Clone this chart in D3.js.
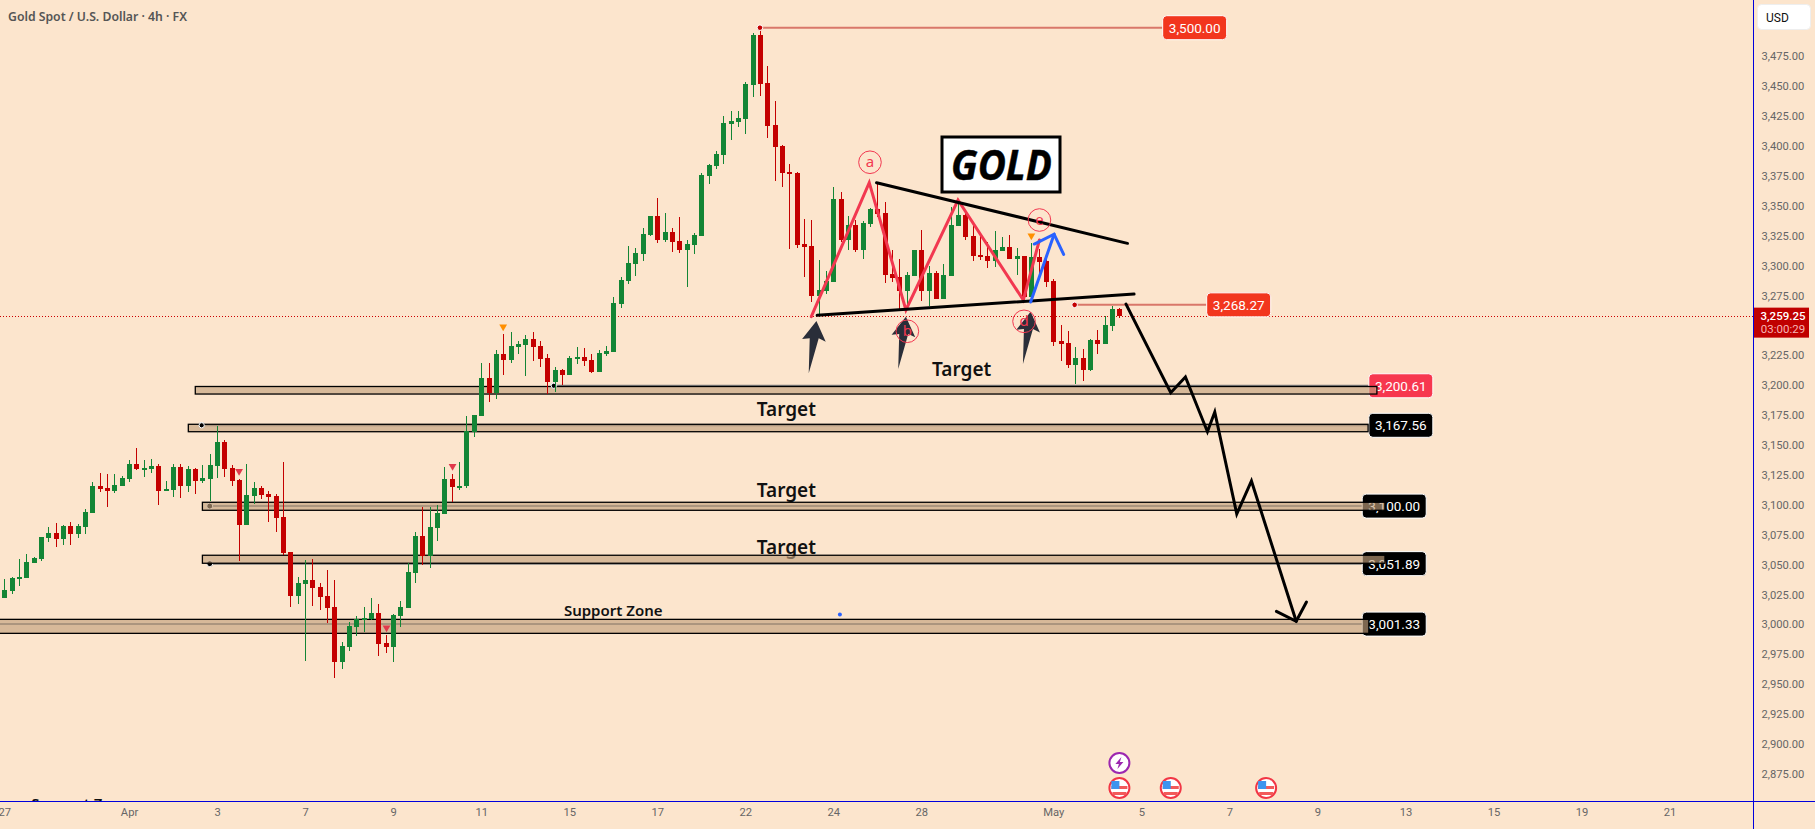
<!DOCTYPE html>
<html lang="en">
<head>
<meta charset="utf-8">
<title>Gold Spot / U.S. Dollar 4h</title>
<script src="https://cdnjs.cloudflare.com/ajax/libs/d3/7.9.0/d3.min.js"></script>
<style>
  html, body { margin: 0; padding: 0; background: #fce5cd; overflow: hidden; }
  svg { display: block; }
  text { font-family: Roboto, sans-serif; }
</style>
</head>
<body>
<svg id="chart" width="1815" height="829"></svg>
<script>
// ---- 4h OHLC series, oldest bar first ----
const opens = [
  3023.2,3029.0,3039.9,3039.9,3052.4,3055.8,3073.3,3077.5,3072.5,3083.4,
  3076.7,3082.5,3094.2,3116.8,3115.1,3112.6,3116.8,3122.7,3135.2,3131.0,
  3131.0,3133.5,3113.5,3113.5,3132.7,3116.8,3131.0,3121.0,3122.7,3133.5,
  3153.6,3131.9,3121.8,3084.2,3108.4,3115.1,3110.1,3108.4,3090.9,3061.6,
  3024.8,3034.9,3038.2,3032.4,3024.8,3015.6,2969.6,2982.2,2998.9,3005.6,
  3005.6,3010.6,2985.5,2982.2,3008.1,3014.8,3044.1,3075.0,3058.3,3081.7,
  3093.4,3122.7,3116.0,3116.5,3162.0,3175.3,3207.1,3194.6,3227.2,3222.2,
  3233.0,3234.7,3239.7,3233.9,3223.8,3203.8,3213.8,3209.6,3223.0,3224.7,
  3222.2,3212.1,3227.2,3228.8,3269.0,3288.2,3302.4,3310.8,3326.7,3342.6,
  3322.5,3329.2,3321.7,3314.1,3318.3,3325.8,3376.0,3384.4,3393.6,3419.5,
  3421.2,3423.7,3452.1,3493.9,3453.8,3418.7,3401.1,3379.4,3378.5,3319.2,
  3317.5,3275.7,3279.9,3287.4,3356.8,3322.5,3335.0,3314.1,3335.9,3348.4,
  3345.1,3294.1,3291.6,3279.9,3292.4,3314.1,3279.9,3294.9,3273.2,3292.4,
  3334.2,3343.4,3325.8,3310.0,3309.1,3304.9,3313.3,3316.6,3306.6,3309.1,
  3274.8,3308.3,3304.9,3288.2,3238.1,3236.4,3218.0,3223.8,3213.8,3238.9,
  3235.5,3250.6,3264.8
];
const highs = [
  3039.0,3040.7,3055.8,3059.9,3057.4,3074.2,3082.5,3085.9,3084.2,3086.7,
  3085.0,3097.6,3120.1,3127.7,3126.8,3126.8,3125.2,3138.5,3148.6,3138.5,
  3139.4,3135.2,3121.0,3135.2,3135.2,3133.5,3131.9,3134.4,3143.6,3167.0,
  3155.3,3134.4,3122.7,3135.2,3120.1,3116.8,3112.6,3110.1,3136.9,3061.6,
  3040.7,3054.9,3055.8,3035.7,3046.6,3038.2,2986.4,3003.1,3008.1,3015.6,
  3023.2,3018.1,2992.2,3009.8,3020.7,3052.4,3078.3,3099.2,3099.2,3100.9,
  3132.7,3126.8,3136.9,3175.3,3176.2,3219.7,3219.7,3230.5,3243.9,3245.6,
  3238.1,3243.1,3245.6,3238.1,3227.2,3216.3,3214.6,3225.5,3233.0,3232.2,
  3227.2,3230.5,3233.9,3274.8,3291.6,3317.5,3315.8,3332.5,3342.6,3357.6,
  3345.1,3332.5,3341.7,3322.5,3328.3,3378.5,3386.0,3396.9,3426.2,3430.4,
  3430.4,3454.6,3495.6,3500.0,3468.0,3438.7,3401.9,3386.0,3379.4,3340.1,
  3339.2,3305.8,3296.6,3366.8,3362.6,3342.6,3339.2,3338.4,3349.3,3370.2,
  3354.3,3314.1,3306.6,3295.7,3314.1,3330.9,3300.8,3296.6,3302.4,3350.1,
  3354.3,3347.6,3337.5,3325.8,3320.8,3330.0,3325.0,3326.7,3315.8,3309.1,
  3320.0,3315.0,3309.1,3289.9,3251.4,3246.4,3233.0,3231.4,3239.7,3247.2,
  3259.0,3267.3,3265.6
];
const lows = [
  3023.2,3026.5,3033.2,3039.9,3052.4,3054.1,3070.0,3065.8,3067.5,3067.5,
  3073.3,3076.7,3094.2,3111.8,3099.2,3111.0,3116.8,3120.1,3130.2,3124.3,
  3127.7,3100.9,3112.6,3107.6,3106.8,3111.8,3110.1,3119.3,3104.3,3123.5,
  3124.3,3116.8,3054.1,3084.2,3101.8,3105.9,3086.7,3078.3,3059.1,3015.6,
  3018.1,2970.5,3016.5,3013.1,3002.3,2956.3,2963.8,2978.8,2991.4,2994.7,
  3004.8,2974.7,2977.2,2969.6,2998.9,3014.8,3035.7,3050.8,3048.2,3070.8,
  3093.4,3103.4,3113.5,3115.5,3157.8,3175.3,3187.1,3189.6,3209.6,3219.7,
  3227.2,3208.8,3221.3,3216.3,3193.7,3195.4,3201.3,3209.6,3218.8,3217.1,
  3211.3,3212.1,3225.5,3228.8,3265.6,3285.7,3292.4,3304.9,3325.8,3320.0,
  3320.8,3312.5,3311.6,3283.2,3310.8,3325.8,3369.3,3381.9,3386.0,3406.1,
  3417.0,3411.1,3442.1,3442.9,3407.8,3371.8,3366.8,3315.0,3315.8,3291.6,
  3270.7,3259.8,3277.3,3287.4,3320.8,3314.1,3312.5,3306.6,3333.4,3341.7,
  3286.5,3287.4,3264.8,3264.0,3292.4,3271.5,3267.3,3273.2,3273.2,3292.4,
  3334.2,3322.5,3304.9,3305.8,3299.1,3299.9,3313.3,3306.6,3293.2,3274.8,
  3270.7,3292.4,3283.2,3233.9,3221.3,3215.5,3202.1,3204.6,3213.0,3227.2,
  3235.5,3246.4,3257.3
];
const closes = [
  3029.8,3039.9,3040.7,3053.3,3056.6,3074.2,3077.5,3072.5,3083.4,3076.7,
  3083.4,3095.1,3116.8,3114.3,3112.6,3117.6,3123.5,3135.2,3131.0,3131.9,
  3133.5,3112.6,3114.3,3132.7,3116.8,3131.0,3121.0,3123.5,3134.4,3153.6,
  3131.0,3121.0,3084.2,3109.3,3115.1,3109.3,3107.6,3090.0,3060.8,3024.8,
  3035.7,3038.2,3031.5,3024.0,3014.8,2969.6,2983.0,2999.7,3005.6,3006.4,
  3010.6,2984.7,2982.2,3008.9,3015.6,3044.9,3075.0,3058.3,3082.5,3094.2,
  3122.7,3116.0,3116.8,3162.8,3176.2,3207.1,3194.6,3227.2,3222.2,3233.9,
  3235.5,3239.7,3233.0,3223.0,3203.8,3213.8,3209.6,3223.8,3224.7,3221.3,
  3212.1,3228.0,3229.7,3269.8,3289.0,3303.3,3311.6,3327.5,3342.6,3322.5,
  3329.2,3320.8,3314.1,3319.2,3326.7,3376.8,3385.2,3394.4,3420.3,3422.0,
  3424.5,3452.9,3493.9,3452.9,3417.8,3400.3,3378.5,3378.5,3318.3,3316.6,
  3275.7,3280.7,3288.2,3356.8,3322.5,3335.0,3314.1,3336.7,3348.4,3344.2,
  3293.2,3290.7,3279.9,3293.2,3314.1,3279.9,3294.9,3273.2,3293.2,3335.0,
  3343.4,3325.0,3309.1,3308.3,3304.9,3314.1,3316.6,3306.6,3309.1,3274.8,
  3308.3,3304.1,3287.4,3237.2,3235.5,3218.0,3223.8,3213.8,3238.9,3235.5,
  3251.4,3264.8,3259.25
];

// ---- Axes ----
const priceTicks = [2875,2900,2925,2950,2975,3000,3025,3050,3075,3100,3125,3150,3175,3200,3225,
                    3275,3300,3325,3350,3375,3400,3425,3450,3475];
const timeTickBars = [0,17,29,41,53,65,77,89,101,113,125,143,155,167,179,191,203,215,227];
const timeTickLabels = ["27","Apr","3","7","9","11","15","17","22","24","28","May","5","7","9","13","15","19","21"];
const titleText = "Gold Spot / U.S. Dollar · 4h · FX";
const lastPrice = 3259.25;
const countdown = "03:00:29";

// ---- Horizontal levels and the support/target zones around them ----
const levelPrices   = [3200.61, 3167.56, 3100.00, 3051.89, 3001.33];
const levelStarts   = [74.9, 26.9, 28, 28, -8];
const levelTagBars  = [186.0, 186.0, 185.1, 185.1, 185.1];
const levelTagFills = ["#f7374f", "#000000", "#000000", "#000000", "#000000"];
const zoneTops      = [3200.0, 3168.4, 3103.2, 3058.9, 3005.3];
const zoneBottoms   = [3193.7, 3162.2, 3096.5, 3052.2, 2993.6];
const zoneLefts     = [26.03, 25.08, 27.0, 27.0, -8];
const zoneRights    = [187.1, 185.9, 188.2, 188.2, 186.0];

// Peak and breakdown levels with a leader line from their anchor bar
const calloutPrices = [3500.00, 3268.27];
const calloutBars   = [103, 145.9];
const calloutTags   = [157.9, 163.9];

// ---- Pattern drawings as [bar, price] ----
const resistanceLine = [[118.9, 3370.4], [153.1, 3319.7]];
const supportLine    = [[110.8, 3259.5], [154.0, 3277.3]];
const waveLine = [[110.0,3258.4],[117.9,3370.4],[122.9,3264.0],[130.0,3355.9],[138.9,3272.3],[141.1,3322.5]];
const blueShaft = [[139.9,3270.6],[143.1,3327.3]];
const blueHead  = [[140.4,3319.1],[143.1,3327.3],[144.4,3310.5]];
const projection = [[152.9,3268.9],[159.0,3194.8],[161.0,3207.9],[164.0,3162.2],[165.0,3178.7],
                    [168.0,3093.4],[170.0,3121.0],[176.1,3003.7]];
const projectionHead = [[173.4,3012.0],[176.1,3003.7],[177.5,3019.8]];
const waveLetters = ["a","b","c","d","e"];
const waveLetterBars = [118.0,123.1,130.0,139.0,141.1];
const waveLetterPrices = [3387.5,3246.2,3373.2,3254.5,3339.2];
const arrowTips = [[110.7,3254.8],[122.9,3258.4],[139.9,3262.5]];
const orangeFlags = [[68.0,3250.0],[140.0,3326.1]];
const redFlags = [[32.0,3129.1],[52.1,2998.3],[61.1,3133.3]];

const noteTexts = ["Target","Target","Target","Target"];
const noteBars = [130.5,106.6,106.6,106.6];
const notePrices = [3208.8,3175.3,3107.6,3060.2];
const supportNotes = [[83.0,3008.1],[10.4,2846.7]];
const smallDot = [113.9, 3009.4];

const earningsBars = [152, 159, 172];
const dividendBar = 152;

// ---- Scales ----
const axisX = 1753.5, axisY = 801.5;
const x = d3.scaleLinear().domain([0, 152]).range([4.33, 1119.4]);
const y = d3.scaleLinear().domain([3000, 3500]).range([625.7, 27.7]);
const pt = d => [x(d[0]), y(d[1])];
const lineGen = d3.line().x(d => x(d[0])).y(d => y(d[1]));

const UP = "#138535", DOWN = "#c40000", INK = "#000000";
const svg = d3.select("#chart");

svg.append("defs").append("clipPath").attr("id", "pane")
  .append("rect").attr("width", axisX).attr("height", axisY);
const pane = svg.append("g").attr("clip-path", "url(#pane)");

// Target captions sit beneath the translucent zones
const notes = pane.append("g");
notes.selectAll("text").data(noteTexts).join("text")
  .attr("x", (d, i) => x(noteBars[i]))
  .attr("y", (d, i) => y(notePrices[i]))
  .attr("text-anchor", "middle")
  .style("font-family", "'Noto Sans', sans-serif")
  .attr("font-size", 19).attr("font-weight", 600).attr("fill", "#111")
  .text(d => d);

// Level lines, anchor dots and their value tags
const levels = pane.append("g");
levels.selectAll("line").data(levelPrices).join("line")
  .attr("x1", (d, i) => x(levelStarts[i])).attr("x2", (d, i) => x(levelTagBars[i]))
  .attr("y1", d => y(d)).attr("y2", d => y(d))
  .attr("stroke", "#808080").attr("stroke-width", 2);
levels.selectAll("circle").data(levelPrices).join("circle")
  .attr("cx", (d, i) => x(levelStarts[i])).attr("cy", d => y(d)).attr("r", 3)
  .attr("fill", "#000").attr("stroke", "#fff").attr("stroke-width", 1);

const tagW = 64, tagH = 24;
const tags = pane.append("g").selectAll("g").data(levelPrices).join("g")
  .attr("transform", (d, i) => `translate(${x(levelTagBars[i])},${y(d)})`);
tags.append("rect").attr("y", -tagH / 2).attr("width", tagW).attr("height", tagH).attr("rx", 4)
  .attr("fill", (d, i) => levelTagFills[i]).attr("stroke", "#fff").attr("stroke-width", 1);
tags.append("text").attr("x", tagW / 2).attr("y", 0).attr("dy", "0.36em")
  .attr("text-anchor", "middle").attr("fill", "#fff").attr("font-size", 13.5)
  .text(d => d3.format(",.2f")(d));

// Zones, drawn over the level tags
pane.append("g").selectAll("rect").data(zoneTops).join("rect")
  .attr("x", (d, i) => x(zoneLefts[i]))
  .attr("width", (d, i) => x(zoneRights[i]) - x(zoneLefts[i]))
  .attr("y", d => y(d))
  .attr("height", (d, i) => y(zoneBottoms[i]) - y(d))
  .attr("fill", "rgb(194,160,124)").attr("fill-opacity", 0.645)
  .attr("stroke", INK).attr("stroke-width", 1.3);

// Dots that rest on a zone's top edge stay sharp
pane.append("g").selectAll("circle").data(levelPrices.slice(0, 2)).join("circle")
  .attr("cx", (d, i) => x(levelStarts[i])).attr("cy", d => y(d)).attr("r", 2.6)
  .attr("fill", "#000").attr("stroke", "#fff").attr("stroke-width", 1);

// Support captions
pane.append("g").selectAll("text").data(supportNotes).join("text")
  .attr("x", d => x(d[0])).attr("y", d => y(d[1]))
  .attr("text-anchor", "middle")
  .style("font-family", "'Noto Sans', sans-serif")
  .attr("font-size", 15).attr("font-weight", 600).attr("fill", "#111")
  .text("Support Zone");

pane.append("circle").attr("cx", x(smallDot[0])).attr("cy", y(smallDot[1])).attr("r", 2).attr("fill", "#2962ff");

// Last-price dotted line
const lastRow = Math.round(y(lastPrice)) + 0.5;
pane.append("line").attr("x1", 0).attr("x2", axisX).attr("y1", lastRow).attr("y2", lastRow)
  .attr("stroke", "#cc0000").attr("stroke-width", 1).attr("stroke-dasharray", "1 2")
  .attr("shape-rendering", "crispEdges");

// Candles
const bars = d3.range(opens.length);
const candle = pane.append("g").attr("shape-rendering", "crispEdges");
candle.selectAll("line").data(bars).join("line")
  .attr("x1", i => Math.round(x(i)) + 0.5).attr("x2", i => Math.round(x(i)) + 0.5)
  .attr("y1", i => y(highs[i])).attr("y2", i => y(lows[i]))
  .attr("stroke", i => closes[i] >= opens[i] ? UP : DOWN).attr("stroke-width", 1);
candle.selectAll("rect").data(bars).join("rect")
  .attr("x", i => Math.round(x(i)) - 2).attr("width", 5)
  .attr("y", i => y(Math.max(opens[i], closes[i])))
  .attr("height", i => Math.max(2, Math.abs(y(opens[i]) - y(closes[i]))))
  .attr("fill", i => closes[i] >= opens[i] ? UP : DOWN);

// Signal markers
const tri = d3.symbol().type(d3.symbolTriangle).size(26);
pane.append("g").selectAll("path").data(orangeFlags).join("path")
  .attr("d", tri).attr("fill", "#ff8f00")
  .attr("transform", d => `translate(${x(d[0])},${y(d[1])}) rotate(180)`);
pane.append("g").selectAll("path").data(redFlags).join("path")
  .attr("d", tri).attr("fill", "#e0394b")
  .attr("transform", d => `translate(${x(d[0])},${y(d[1])}) rotate(180)`);

// Peak and breakdown callouts
const callouts = pane.append("g");
callouts.selectAll("line").data(calloutPrices).join("line")
  .attr("x1", (d, i) => x(calloutBars[i])).attr("x2", (d, i) => x(calloutTags[i]))
  .attr("y1", d => y(d)).attr("y2", d => y(d))
  .attr("stroke", "#d9776a").attr("stroke-width", 2);
callouts.selectAll("circle").data(calloutPrices).join("circle")
  .attr("cx", (d, i) => x(calloutBars[i])).attr("cy", d => y(d)).attr("r", 2.8)
  .attr("fill", "#c40000").attr("stroke", "#fff").attr("stroke-width", 1);
const ctags = callouts.selectAll("g").data(calloutPrices).join("g")
  .attr("transform", (d, i) => `translate(${x(calloutTags[i])},${y(d)})`);
ctags.append("rect").attr("y", -tagH / 2).attr("width", tagW).attr("height", tagH).attr("rx", 4)
  .attr("fill", "#f2361e").attr("stroke", "#fff").attr("stroke-width", 1);
ctags.append("text").attr("x", tagW / 2).attr("dy", "0.36em")
  .attr("text-anchor", "middle").attr("fill", "#fff").attr("font-size", 13.5)
  .text(d => d3.format(",.2f")(d));

// Pattern: wave path, trend lines, blue arrow and projected drop
const stroke = (data, colour) => pane.append("path").datum(data).attr("d", lineGen)
  .attr("fill", "none").attr("stroke", colour).attr("stroke-width", 3)
  .attr("stroke-linejoin", "miter").attr("stroke-linecap", "round");
stroke(waveLine, "#f23850");
stroke(resistanceLine, INK);
stroke(supportLine, INK);
stroke(blueShaft, "#2962ff");
stroke(blueHead, "#2962ff");
stroke(projection, INK);
stroke(projectionHead, INK);

// Dark upward arrows under the swing lows
const arrowShape = [[0,0],[9.3,20.7],[2.3,17.3],[-7.7,52.3],[-6.7,17.3],[-14.3,18]];
pane.append("g").selectAll("path").data(arrowTips).join("path")
  .attr("d", d => { const p = pt(d); return "M" + arrowShape.map(s => [p[0] + s[0], p[1] + s[1]].join(",")).join("L") + "Z"; })
  .attr("fill", "#2a2e39");

// Circled wave letters
const letters = pane.append("g").selectAll("g").data(waveLetters).join("g")
  .attr("transform", (d, i) => `translate(${x(waveLetterBars[i])},${y(waveLetterPrices[i])})`);
letters.append("circle").attr("r", 11.3).attr("fill", "none").attr("stroke", "#f23850").attr("stroke-width", 1);
letters.append("text").attr("dy", "0.32em").attr("text-anchor", "middle")
  .attr("font-size", 15).attr("fill", "#f23850")
  .style("font-family", "'Noto Sans', sans-serif").text(d => d);

// GOLD title box
const goldBox = pane.append("g");
goldBox.append("rect").attr("x", 942).attr("y", 137).attr("width", 118).attr("height", 55)
  .attr("fill", "#fff").attr("stroke", "#000").attr("stroke-width", 3);
goldBox.append("text").attr("x", 1001.5).attr("y", 179.5).attr("text-anchor", "middle")
  .style("font-family", "'Noto Sans', sans-serif")
  .attr("font-size", 41).attr("font-weight", 700).attr("font-style", "italic").attr("fill", "#000")
  .attr("stroke", "#000").attr("stroke-width", 0.5)
  .attr("textLength", 101).attr("lengthAdjust", "spacingAndGlyphs")
  .text("GOLD");

// Calendar markers along the bottom of the pane
const flagIcon = pane.append("g").selectAll("g").data(earningsBars).join("g")
  .attr("transform", d => `translate(${x(d)},788)`);
flagIcon.append("circle").attr("r", 10).attr("fill", "#fff").attr("stroke", "#f23645").attr("stroke-width", 2);
flagIcon.append("rect").attr("x", -8).attr("y", -2).attr("width", 16).attr("height", 3).attr("fill", "#f25a5a");
flagIcon.append("rect").attr("x", -7).attr("y", 4).attr("width", 14).attr("height", 3).attr("fill", "#f25a5a");
flagIcon.append("rect").attr("x", -8).attr("y", -7).attr("width", 8).attr("height", 8).attr("fill", "#3d94ee");

const bolt = pane.append("g").attr("transform", `translate(${x(dividendBar)},763)`);
bolt.append("circle").attr("r", 10).attr("fill", "#fff").attr("stroke", "#9c27b0").attr("stroke-width", 2);
bolt.append("path").attr("d", "M2,-6 L-4,1 L-0.5,1 L-2,6 L4,-1 L0.5,-1 Z").attr("fill", "#9c27b0");

// Title
svg.append("text").attr("x", 8).attr("y", 21)
  .style("font-family", "'Noto Sans', sans-serif")
  .attr("font-size", 13).attr("font-weight", 600).attr("fill", "#555")
  .attr("textLength", 179).attr("lengthAdjust", "spacingAndGlyphs")
  .text(titleText);

// Price axis
const yAxis = svg.append("g").attr("transform", `translate(${axisX},0)`)
  .call(d3.axisRight(y).tickValues(priceTicks).tickSize(0).tickPadding(8).tickFormat(d3.format(",.2f")));
yAxis.select(".domain").remove();
yAxis.selectAll("text").attr("font-size", 11.2).attr("fill", "#666").attr("font-family", null)
  .style("font-family", "Roboto, sans-serif").attr("dy", "0.2em");

// Time axis
const xAxis = svg.append("g").attr("transform", `translate(0,${axisY})`)
  .call(d3.axisBottom(x).tickValues(timeTickBars).tickSize(0).tickPadding(7)
    .tickFormat((d, i) => timeTickLabels[i]));
xAxis.select(".domain").remove();
xAxis.selectAll("text").attr("font-size", 11.2).attr("fill", "#666").attr("font-family", null)
  .style("font-family", "Roboto, sans-serif");

// Pane borders
svg.append("line").attr("x1", axisX).attr("x2", axisX).attr("y1", 0).attr("y2", 829)
  .attr("stroke", "#0000dd").attr("stroke-width", 1);
svg.append("line").attr("x1", 0).attr("x2", 1815).attr("y1", axisY).attr("y2", axisY)
  .attr("stroke", "#0000dd").attr("stroke-width", 1);

// Last-price tag on the price axis
const last = svg.append("g").attr("transform", `translate(1754,${y(lastPrice)})`);
last.append("rect").attr("y", -8).attr("width", 55).attr("height", 30).attr("fill", "#c00000");
last.append("text").attr("x", 29).attr("y", 4.5).attr("text-anchor", "middle").attr("fill", "#fff")
  .attr("font-size", 11.5).attr("font-weight", 500).text(d3.format(",.2f")(lastPrice));
last.append("text").attr("x", 29).attr("y", 17.5).attr("text-anchor", "middle").attr("fill", "#f6b6b6")
  .attr("font-size", 11.5).text(countdown);

// Currency box
const usd = svg.append("g");
usd.append("rect").attr("x", 1757.5).attr("y", 4.5).attr("width", 53).attr("height", 25).attr("rx", 4)
  .attr("fill", "#fff").attr("stroke", "#eee");
usd.append("text").attr("x", 1766).attr("y", 21.5).attr("font-size", 12).attr("fill", "#111").text("USD");
</script>
</body>
</html>
